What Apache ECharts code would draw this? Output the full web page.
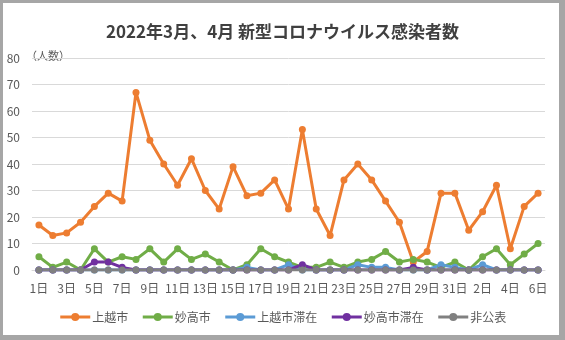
<!DOCTYPE html>
<html><head><meta charset="utf-8">
<script src="https://cdn.jsdelivr.net/npm/echarts@6/dist/echarts.min.js"></script>
<style>
html,body{margin:0;padding:0;background:#a6a6a6;width:565px;height:340px;overflow:hidden}
#frame{position:absolute;left:3px;top:3px;width:556px;height:332px;background:#fff}
#c{position:absolute;left:-3px;top:-3px;width:565px;height:340px}
</style></head>
<body><div id="frame"><div id="c"></div></div>
<script>
const title = "2022年3月、4月 新型コロナウイルス感染者数";
const categories = ["1日","2日","3日","4日","5日","6日","7日","8日","9日","10日","11日","12日","13日","14日","15日","16日","17日","18日","19日","20日","21日","22日","23日","24日","25日","26日","27日","28日","29日","30日","31日","1日","2日","3日","4日","5日","6日"];
const joetsu   = [17,13,14,18,24,29,26,67,49,40,32,42,30,23,39,28,29,34,23,53,23,13,34,40,34,26,18,3,7,29,29,15,22,32,8,24,29];
const myoko    = [5,1,3,0,8,3,5,4,8,3,8,4,6,3,0,2,8,5,3,1,1,3,1,3,4,7,3,4,3,1,3,0,5,8,2,6,10];
const joetsuStay = [0,0,0,0,0,0,0,0,0,0,0,0,0,0,0,1,0,0,2,0,0,0,0,2,1,1,0,0,0,2,1,0,2,0,0,0,0];
const myokoStay  = [0,0,0,0,3,3,1,0,0,0,0,0,0,0,0,0,0,0,0,2,0,0,0,0,0,0,0,1,0,0,0,0,0,0,0,0,0];
const undisclosed = [0,0,0,0,0,0,0,0,0,0,0,0,0,0,0,0,0,0,0,0,0,0,0,0,0,0,0,0,0,0,0,0,0,0,0,0,0];
const seriesNames = ["上越市","妙高市","上越市滞在","妙高市滞在","非公表"];
const seriesData = [joetsu, myoko, joetsuStay, myokoStay, undisclosed];
const colors = ["#ED7D31","#70AD47","#5B9BD5","#7030A0","#808080"];
const yTicks = {min:0, max:80, interval:10};

const font = '"Noto Sans CJK JP", "Noto Sans", sans-serif';
const chart = echarts.init(document.getElementById('c'), null, {renderer:'canvas'});
chart.setOption({
  animation:false,
  color: colors,
  textStyle:{fontFamily:font},
  title:{text:title, left:'center', top:18, textStyle:{fontFamily:font, fontSize:17, fontWeight:'bold', color:'#404040'}},
  grid:{left:32, right:20, top:58, bottom:70},
  graphic:[{type:'text', left:26, top:50, style:{text:'（人数）', font:'11px '+font, fill:'#595959'}}],
  legend:{bottom:12, left:'center', itemWidth:30, itemHeight:10, itemGap:13,
    textStyle:{fontFamily:font, fontSize:12, color:'#595959', padding:[0,0,0,-3]},
    itemStyle:{borderWidth:0},
    lineStyle:{width:3},
    data: seriesNames},
  xAxis:{type:'category', data:categories, boundaryGap:true,
    axisLine:{lineStyle:{color:'#d9d9d9'}}, axisTick:{show:false},
    axisLabel:{interval:1, color:'#595959', fontSize:12, fontFamily:font, margin:12}},
  yAxis:{type:'value', min:yTicks.min, max:yTicks.max, interval:yTicks.interval,
    axisLine:{show:false}, axisTick:{show:false},
    splitLine:{lineStyle:{color:'#d9d9d9', width:1}},
    axisLabel:{color:'#595959', fontSize:12, fontFamily:font, margin:12}},
  series: seriesNames.map((n,i)=>({
    name:n, type:'line', data:seriesData[i], symbol:'circle', symbolSize:7,
    lineStyle:{width:3, color:colors[i]}, itemStyle:{color:colors[i]}
  }))
});
</script></body></html>
